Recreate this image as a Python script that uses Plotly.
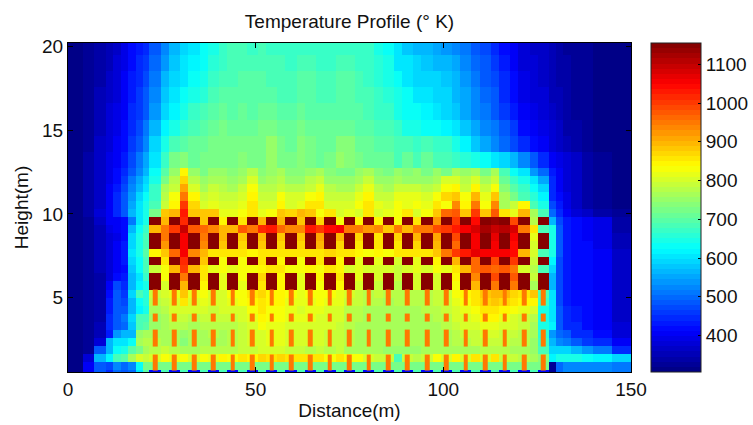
import plotly.graph_objects as go

BLOCK = 1155      # maroon block temperature
STRIPE = 950      # orange stripe temperature


def blocked(gaps):
    """Row crossing the maroon blocks: only the gaps between them differ."""
    out = []
    for g in gaps:
        out += [BLOCK, g]
    return out + [BLOCK]


# metres, cell boundaries (non uniform: they follow the structure of the picture)
left_edges = [0, 4, 7, 10, 12, 14, 16, 18, 20, 21.7]
block_starts = [21.7, 26.87, 32.05, 37.22, 42.4, 47.57, 52.75, 57.92, 63.1, 68.27, 73.45,
                78.62, 83.8, 88.97, 94.15, 99.32, 104.5, 109.67, 114.85, 120.02, 125.2]
block_width = 3.0
right_edges = [130, 132, 134, 137, 140, 145, 150]
y_edges = [20.21, 19.48, 18.51, 17.56, 16.61, 15.64, 14.67, 13.70, 12.74, 12.26, 11.77, 11.29,
           10.80, 10.32, 9.84, 9.36, 8.875, 8.39, 7.91, 7.43, 6.95, 6.46, 5.98, 5.49, 5.01,
           4.53, 4.05, 3.57, 3.08, 2.60, 2.11, 1.63, 1.15, 0.67, 0.565]

# Temperatures (K), one row per band from the top of the chart to the bottom
left_rows = [
    [310, 320, 340, 350, 370, 390, 420, 430, 450],
    [310, 320, 340, 355, 375, 395, 425, 440, 460],
    [310, 320, 345, 360, 380, 400, 430, 450, 470],
    [310, 320, 350, 370, 385, 405, 435, 460, 480],
    [310, 325, 350, 375, 390, 410, 440, 465, 490],
    [310, 325, 355, 380, 395, 415, 445, 475, 505],
    [310, 330, 360, 385, 400, 425, 455, 490, 520],
    [310, 335, 360, 390, 410, 435, 470, 505, 545],
    [312, 335, 365, 395, 420, 450, 490, 530, 565],
    [312, 335, 365, 395, 425, 460, 510, 550, 590],
    [312, 340, 370, 400, 430, 470, 525, 570, 610],
    [312, 340, 370, 400, 440, 480, 540, 590, 625],
    [312, 340, 370, 400, 440, 490, 550, 600, 640],
    [312, 340, 375, 410, 445, 490, 560, 600, 650],
    [312, 330, 360, 400, 400, 420, 510, 610, 650],
    [312, 330, 350, 390, 400, 420, 560, 630, 670],
    [312, 330, 350, 385, 395, 425, 590, 640, 680],
    [312, 330, 350, 385, 400, 430, 590, 640, 690],
    [312, 330, 350, 385, 400, 430, 600, 640, 700],
    [312, 330, 350, 380, 400, 430, 590, 630, 690],
    [312, 330, 350, 380, 400, 420, 580, 630, 680],
    [312, 330, 345, 385, 420, 430, 560, 610, 670],
    [312, 330, 345, 400, 470, 450, 560, 620, 640],
    [312, 330, 345, 420, 480, 460, 590, 680, 660],
    [312, 325, 345, 430, 480, 470, 560, 630, 660],
    [312, 325, 345, 430, 480, 480, 560, 620, 650],
    [312, 325, 345, 440, 480, 510, 590, 680, 690],
    [312, 325, 350, 440, 480, 500, 580, 690, 700],
    [312, 325, 350, 430, 540, 560, 570, 750, 770],
    [312, 330, 380, 560, 610, 600, 630, 760, 780],
    [312, 330, 480, 570, 630, 650, 700, 730, 760],
    [312, 380, 570, 620, 690, 700, 760, 800, 790],
    [312, 400, 490, 470, 520, 500, 520, 630, 730],
    [312, 400, 480, 450, 500, 480, 500, 610, 700],
]

core_rows = [
    [480, 520, 570, 590, 605, 625, 650, 670, 685, 680, 675, 685, 675, 675, 665, 675, 675, 665, 665, 675, 675, 665, 665, 650, 630, 600, 580, 570, 560, 550, 540, 530, 510, 480, 470, 450, 420, 400, 380, 370, 360],
    [495, 540, 580, 600, 615, 635, 660, 675, 685, 685, 685, 690, 685, 680, 675, 685, 685, 675, 675, 685, 685, 675, 670, 660, 640, 610, 600, 590, 580, 570, 560, 550, 530, 500, 480, 460, 430, 410, 385, 375, 365],
    [510, 560, 590, 610, 625, 645, 675, 688, 688, 692, 692, 697, 688, 682, 682, 692, 692, 682, 682, 692, 692, 682, 672, 660, 650, 630, 610, 595, 590, 585, 575, 565, 540, 510, 490, 470, 440, 420, 390, 380, 370],
    [525, 575, 600, 625, 640, 660, 685, 695, 695, 700, 695, 700, 695, 690, 690, 700, 695, 685, 685, 695, 695, 685, 680, 665, 660, 640, 625, 610, 600, 595, 585, 570, 545, 520, 500, 480, 450, 425, 395, 385, 375],
    [540, 595, 620, 650, 665, 685, 700, 708, 698, 708, 698, 708, 708, 703, 698, 708, 698, 693, 693, 703, 703, 693, 685, 675, 670, 650, 635, 625, 615, 605, 590, 575, 555, 530, 510, 490, 460, 435, 410, 395, 380],
    [565, 620, 650, 670, 685, 700, 715, 720, 710, 715, 710, 720, 720, 710, 710, 720, 710, 705, 705, 715, 715, 700, 695, 690, 685, 665, 650, 640, 635, 625, 620, 600, 575, 555, 530, 505, 480, 455, 425, 405, 390],
    [590, 645, 690, 695, 705, 715, 730, 730, 720, 730, 720, 730, 750, 720, 715, 735, 720, 710, 715, 735, 735, 715, 705, 700, 700, 680, 680, 670, 680, 665, 665, 645, 615, 580, 555, 530, 500, 470, 440, 420, 400],
    [610, 670, 730, 735, 715, 720, 730, 730, 720, 740, 725, 730, 755, 720, 720, 740, 725, 715, 725, 745, 740, 720, 710, 705, 710, 690, 705, 680, 705, 680, 690, 670, 660, 645, 630, 610, 590, 560, 520, 480, 445],
    [625, 700, 755, 840, 750, 730, 745, 745, 735, 750, 780, 740, 745, 760, 740, 740, 750, 760, 740, 730, 730, 745, 760, 740, 725, 750, 735, 745, 725, 745, 730, 765, 745, 765, 725, 760, 680, 635, 600, 540, 500],
    [645, 730, 775, 875, 775, 745, 765, 760, 750, 765, 805, 755, 760, 775, 755, 755, 775, 785, 755, 745, 745, 765, 785, 755, 745, 765, 755, 755, 750, 765, 805, 800, 775, 805, 765, 795, 710, 675, 650, 600, 550],
    [665, 765, 795, 915, 805, 765, 785, 775, 765, 785, 825, 775, 775, 795, 775, 775, 795, 815, 775, 765, 765, 785, 815, 775, 770, 785, 785, 785, 775, 795, 835, 845, 795, 845, 785, 835, 735, 695, 670, 630, 590],
    [670, 775, 825, 955, 845, 795, 805, 795, 785, 805, 845, 795, 795, 825, 805, 805, 825, 845, 795, 785, 785, 815, 845, 795, 795, 815, 815, 815, 805, 835, 875, 885, 825, 895, 815, 885, 760, 720, 690, 660, 620],
    [690, 790, 840, 1000, 870, 810, 820, 810, 800, 820, 860, 810, 810, 840, 810, 820, 850, 860, 810, 800, 800, 830, 860, 820, 810, 830, 820, 830, 820, 860, 830, 930, 840, 950, 830, 930, 770, 790, 840, 680, 640],
    [720, 880, 890, 1030, 880, 880, 880, 820, 820, 830, 860, 820, 830, 880, 870, 890, 880, 830, 860, 810, 820, 810, 860, 810, 820, 830, 860, 810, 830, 880, 960, 980, 880, 1000, 880, 980, 850, 820, 890, 760, 680],
    blocked([900, 1010, 880, 840, 850, 890, 890, 880, 870, 830, 840, 840, 830, 850, 920, 1000, 1040, 1130, 990, 780]),
    [900, 950, 1000, 1100, 970, 960, 930, 900, 900, 970, 950, 1020, 1030, 960, 930, 940, 1030, 1000, 1040, 1050, 950, 950, 920, 930, 880, 950, 900, 950, 950, 990, 1000, 1030, 1060, 1080, 1120, 1090, 1110, 1080, 950, 860, 680],
    blocked([950, 1060, 950, 900, 880, 890, 880, 880, 910, 890, 870, 860, 870, 890, 910, 990, 1060, 1070, 1060, 820]),
    blocked([920, 1050, 930, 880, 870, 880, 870, 870, 890, 870, 850, 850, 860, 870, 890, 960, 1050, 1060, 1040, 800]),
    [840, 880, 960, 1060, 930, 900, 860, 860, 850, 860, 840, 850, 850, 860, 850, 860, 860, 860, 870, 850, 850, 840, 830, 840, 830, 860, 850, 860, 860, 880, 950, 1000, 1030, 1070, 1060, 1060, 1060, 1040, 900, 800, 690],
    blocked([850, 1010, 880, 830, 830, 850, 840, 830, 860, 840, 820, 820, 810, 820, 840, 890, 960, 990, 1000, 790]),
    [790, 830, 900, 1000, 900, 860, 820, 830, 820, 830, 830, 840, 850, 850, 830, 830, 840, 830, 850, 840, 810, 820, 800, 810, 800, 790, 810, 820, 810, 830, 820, 860, 900, 960, 980, 960, 980, 950, 810, 780, 680],
    blocked([830, 950, 850, 820, 830, 870, 840, 820, 840, 850, 820, 800, 790, 800, 800, 840, 930, 990, 970, 790]),
    blocked([810, 900, 840, 820, 820, 860, 840, 820, 830, 840, 810, 790, 780, 800, 800, 830, 900, 950, 950, 770]),
    [790, 800, 820, 880, 820, 830, 810, 810, 830, 830, 850, 870, 840, 840, 830, 820, 830, 830, 830, 820, 800, 790, 780, 790, 780, 780, 780, 780, 780, 790, 790, 830, 840, 850, 880, 890, 890, 870, 860, 880, 680],
    [780, 790, 810, 850, 810, 820, 810, 810, 820, 830, 840, 860, 840, 840, 820, 820, 820, 830, 820, 820, 790, 790, 780, 780, 770, 780, 780, 780, 780, 790, 790, 820, 830, 850, 870, 880, 870, 860, 840, 840, 670],
    [770, 780, 800, 810, 800, 800, 790, 800, 810, 810, 830, 850, 830, 830, 820, 810, 820, 820, 810, 810, 780, 780, 770, 770, 760, 770, 770, 770, 780, 780, 790, 800, 820, 830, 850, 860, 840, 830, 820, 800, 650],
    [750, 770, 790, 790, 780, 790, 790, 790, 790, 800, 820, 840, 830, 830, 820, 820, 820, 810, 810, 800, 780, 780, 770, 770, 760, 770, 770, 770, 770, 780, 780, 800, 810, 820, 840, 840, 820, 810, 790, 780, 640],
    [750, 770, 780, 780, 770, 780, 780, 780, 780, 790, 810, 830, 820, 820, 810, 810, 810, 800, 800, 790, 780, 770, 770, 760, 760, 760, 770, 760, 770, 770, 780, 790, 800, 810, 820, 820, 810, 800, 790, 770, 640],
    [770, 770, 760, 750, 770, 770, 780, 770, 780, 790, 800, 810, 820, 820, 810, 800, 800, 800, 790, 790, 780, 770, 770, 760, 760, 760, 760, 760, 770, 770, 770, 780, 790, 790, 800, 800, 790, 790, 780, 760, 660],
    [780, 770, 760, 740, 760, 760, 770, 770, 780, 790, 800, 810, 820, 820, 810, 800, 800, 800, 790, 790, 780, 770, 770, 760, 760, 760, 760, 760, 770, 770, 770, 780, 780, 790, 790, 790, 790, 780, 780, 750, 670],
    [780, 790, 780, 770, 770, 780, 780, 780, 780, 790, 790, 800, 800, 800, 790, 790, 780, 790, 780, 790, 770, 770, 760, 760, 750, 750, 750, 750, 760, 760, 760, 770, 770, 770, 780, 780, 780, 770, 770, 750, 680],
    [800, 830, 820, 830, 810, 830, 820, 840, 830, 850, 840, 870, 860, 870, 860, 860, 860, 850, 830, 860, 830, 830, 800, 790, 790, 690, 790, 780, 790, 830, 800, 840, 800, 850, 800, 850, 790, 790, 780, 770, 740],
    [730, 730, 730, 730, 730, 730, 730, 730, 730, 730, 730, 730, 730, 730, 730, 730, 730, 730, 730, 730, 730, 730, 730, 730, 730, 730, 730, 730, 730, 730, 730, 730, 730, 730, 730, 730, 730, 730, 730, 730, 730],
    [420, 690, 420, 690, 420, 690, 420, 690, 420, 690, 420, 690, 420, 690, 420, 690, 420, 690, 420, 690, 420, 690, 420, 690, 420, 690, 420, 690, 420, 690, 420, 690, 420, 690, 420, 690, 420, 690, 420, 690, 420],
]

right_rows = [
    [350, 340, 330, 325, 320, 315, 310],
    [350, 345, 335, 325, 320, 315, 310],
    [350, 345, 335, 330, 320, 315, 310],
    [355, 350, 340, 330, 320, 315, 310],
    [365, 355, 340, 330, 320, 315, 310],
    [375, 360, 345, 335, 320, 315, 310],
    [385, 370, 350, 335, 325, 315, 310],
    [410, 395, 380, 360, 335, 320, 310],
    [430, 405, 385, 365, 340, 320, 310],
    [440, 410, 385, 365, 340, 320, 310],
    [440, 410, 385, 365, 340, 320, 310],
    [450, 420, 390, 365, 340, 320, 310],
    [470, 430, 395, 370, 345, 325, 315],
    [500, 445, 410, 385, 360, 335, 320],
    [570, 470, 430, 420, 410, 390, 340],
    [640, 480, 430, 420, 410, 390, 345],
    [640, 480, 430, 420, 410, 395, 350],
    [650, 480, 430, 420, 415, 395, 355],
    [640, 480, 430, 420, 415, 400, 360],
    [620, 470, 430, 420, 415, 400, 360],
    [590, 470, 430, 420, 415, 400, 360],
    [570, 470, 430, 420, 415, 400, 365],
    [570, 470, 430, 420, 415, 405, 365],
    [600, 470, 435, 425, 415, 405, 365],
    [600, 470, 435, 425, 420, 405, 370],
    [610, 480, 440, 430, 420, 405, 370],
    [610, 480, 440, 430, 420, 410, 370],
    [620, 490, 450, 440, 420, 410, 375],
    [540, 500, 480, 450, 440, 420, 380],
    [560, 530, 510, 490, 460, 440, 400],
    [590, 590, 590, 570, 540, 510, 450],
    [620, 640, 640, 640, 630, 620, 590],
    [330, 500, 530, 530, 530, 520, 510],
    [330, 500, 530, 530, 530, 520, 510],
]

# orange stripes under the maroon blocks: height bands (m)
stripe_bands = [(0.67, 1.63), (2.11, 3.08), (3.57, 4.05), (4.53, 5.49)]
stripe_half_width = 0.62

zmin, zmax = 306, 1155
colorbar_ticks = [400, 500, 600, 700, 800, 900, 1000, 1100]


def jet_colorscale(n=64):
    def ramp(f, centre):
        return max(0.0, min(1.0, 1.5 - abs(4 * f - centre)))
    scale = []
    for i in range(n):
        f = (i + 0.5) / n
        c = "rgb(%d,%d,%d)" % (round(255 * ramp(f, 3)), round(255 * ramp(f, 2)), round(255 * ramp(f, 1)))
        scale += [[i / n, c], [(i + 1) / n, c]]
    return scale


JET = jet_colorscale()

x_edges = list(left_edges)
for s in block_starts:
    x_edges += [s + block_width]
    if s != block_starts[-1]:
        x_edges += [round(s + 5.175, 2)]
x_edges += right_edges

z = [l + c + r for l, c, r in zip(left_rows, core_rows, right_rows)]

fig = go.Figure()
fig.add_trace(go.Heatmap(
    x=x_edges, y=y_edges[::-1], z=z[::-1],
    colorscale=JET, zmin=zmin, zmax=zmax, zsmooth=False,
    hovertemplate="x=%{x}<br>y=%{y}<br>T=%{z}<extra></extra>",
    colorbar=dict(
        x=(652 - 67.5) / 564, xanchor="left", xpad=0, ypad=0,
        y=0, yanchor="bottom", len=1, lenmode="fraction",
        thickness=50, thicknessmode="pixels",
        outlinecolor="#222", outlinewidth=1,
        ticks="inside", ticklen=3, tickcolor="black",
        tickvals=colorbar_ticks,
        tickfont=dict(family="Liberation Sans", size=19, color="#111"),
    ),
))

stripe_x = []
for s in block_starts:
    c = s + block_width / 2
    stripe_x += [c - stripe_half_width, c + stripe_half_width]
stripe_y = []
stripe_z = []
for i, (lo, hi) in enumerate(stripe_bands):
    stripe_y += [lo, hi]
    cells = []
    for k in range(len(block_starts)):
        cells.append(STRIPE)
        if k < len(block_starts) - 1:
            cells.append(None)
    stripe_z.append(cells)
    if i < len(stripe_bands) - 1:
        stripe_z.append([None] * len(cells))

fig.add_trace(go.Heatmap(
    x=stripe_x, y=stripe_y, z=stripe_z, colorscale=JET, zmin=zmin, zmax=zmax,
    showscale=False, hoverongaps=False,
))

axis_style = dict(
    showgrid=False, zeroline=False, showline=True, linecolor="black", linewidth=1,
    mirror="ticks", ticks="inside", ticklen=5, tickcolor="black",
    tickfont=dict(family="Liberation Sans", size=19, color="#111"),
    automargin=False,
)

shapes = []
for t in colorbar_ticks:
    y = (t - zmin) / (zmax - zmin)
    x0 = (652 - 67.5) / 564
    shapes.append(dict(type="line", xref="paper", yref="paper", x0=x0, x1=x0 + 3 / 564, y0=y, y1=y,
                       line=dict(color="black", width=1)))

fig.update_layout(
    width=753, height=425,
    margin=dict(l=67.5, r=121.5, t=42.5, b=52.5, autoexpand=False),
    paper_bgcolor="white", plot_bgcolor="white",
    font=dict(family="Liberation Sans", color="#111"),
    title=dict(text="Temperature Profile (° K)", x=349.5 / 753, xanchor="center",
               y=1 - 21 / 425, yanchor="middle", font=dict(size=19)),
    xaxis=dict(range=[0, 150], tickvals=[0, 50, 100, 150],
               title=dict(text="Distance(m)", font=dict(size=19), standoff=4), **axis_style),
    yaxis=dict(range=[0.565, 20.21], tickvals=[5, 10, 15, 20],
               title=dict(text="Height(m)", font=dict(size=19), standoff=8), **axis_style),
    shapes=shapes,
)

fig.write_html("out.html", post_script="document.body.style.margin='0';",
               config=dict(displayModeBar=False))
